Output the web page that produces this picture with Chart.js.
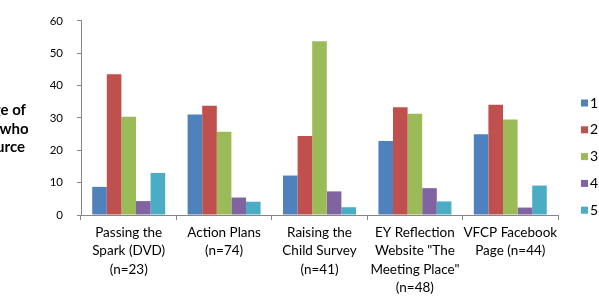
<!DOCTYPE html>
<html>
<head>
<meta charset="utf-8">
<style>
html,body{margin:0;padding:0;background:#fff;}
#wrap{width:599px;height:296px;position:relative;}
</style>
<script src="https://cdn.jsdelivr.net/npm/chart.js@4/dist/chart.umd.min.js"></script>
</head>
<body>
<div id="wrap"><canvas id="c" width="599" height="296"></canvas></div>
<script>
const categories = [
  ["Passing the", "Spark (DVD)", "(n=23)"],
  ["Action Plans", "(n=74)"],
  ["Raising the", "Child Survey", "(n=41)"],
  ["EY Reflection", "Website \"The", "Meeting Place\"", "(n=48)"],
  ["VFCP Facebook", "Page (n=44)"]
];
const seriesNames = ["1", "2", "3", "4", "5"];
const rating1 = [8.7, 31.1, 12.2, 22.9, 25.0];
const rating2 = [43.5, 33.8, 24.4, 33.3, 34.1];
const rating3 = [30.4, 25.7, 53.7, 31.3, 29.5];
const rating4 = [4.3, 5.4, 7.3, 8.3, 2.3];
const rating5 = [13.0, 4.1, 2.4, 4.2, 9.1];
const yTicks = [0, 10, 20, 30, 40, 50, 60];
const yTitleLines = ["Percentage of", "respondents who", "used resource"];

const colors = ["#4F81BD", "#C0504D", "#9BBB59", "#8064A2", "#4BACC6"];
const allSeries = [rating1, rating2, rating3, rating4, rating5];
const FONT = "Lato, 'Open Sans', sans-serif";

const extras = {
  id: 'extras',
  afterDraw(chart) {
    const ctx = chart.ctx;
    ctx.save();
    // y axis title (clipped at left edge as in the original)
    ctx.font = "bold 15px " + FONT;
    ctx.fillStyle = "#000";
    ctx.textAlign = "right";
    ctx.textBaseline = "middle";
    const cy = (chart.chartArea.top + chart.chartArea.bottom) / 2;
    const ys = [cy - 7.5, cy + 11, cy + 29.5];
    const ends = [26, 28.5, 25];
    yTitleLines.forEach((t, i) => ctx.fillText(t, ends[i], ys[i]));
    // legend
    ctx.font = "14px " + FONT;
    ctx.textAlign = "left";
    const x0 = 581, y0 = 103, step = 26.8;
    chart.data.datasets.forEach((ds, i) => {
      const y = y0 + i * step;
      ctx.fillStyle = ds.backgroundColor;
      ctx.fillRect(x0, y - 3.5, 7, 7);
      ctx.fillStyle = "#000";
      ctx.fillText(ds.label, x0 + 9, y);
    });
    ctx.restore();
  }
};

new Chart(document.getElementById('c'), {
  type: 'bar',
  data: {
    labels: categories,
    datasets: allSeries.map((d, i) => ({
      label: seriesNames[i],
      data: d,
      backgroundColor: colors[i],
      borderWidth: 0,
      categoryPercentage: 0.765,
      barPercentage: 1.0
    }))
  },
  options: {
    responsive: false,
    animation: false,
    devicePixelRatio: 1,
    layout: { padding: { top: 15, right: 41, left: 0, bottom: 0 } },
    plugins: { legend: { display: false }, tooltip: { enabled: false } },
    scales: {
      x: {
        grid: { display: true, drawOnChartArea: false, offset: true, tickLength: 5, color: "#868686" },
        border: { display: true, color: "#868686" },
        ticks: { color: "#000", font: { family: FONT, size: 13.5, lineHeight: 1.34 }, padding: 4, maxRotation: 0, autoSkip: false },
        afterFit(s) { s.height = 81; }
      },
      y: {
        min: 0, max: 60,
        afterBuildTicks(s) { s.ticks = yTicks.map(v => ({ value: v })); },
        grid: { display: true, drawOnChartArea: false, tickLength: 4, color: "#868686" },
        border: { display: true, color: "#868686" },
        ticks: { color: "#000", font: { family: FONT, size: 11.5 }, padding: 14 },
        afterFit(s) { s.width = 81; }
      }
    }
  },
  plugins: [extras]
});
</script>
</body>
</html>
